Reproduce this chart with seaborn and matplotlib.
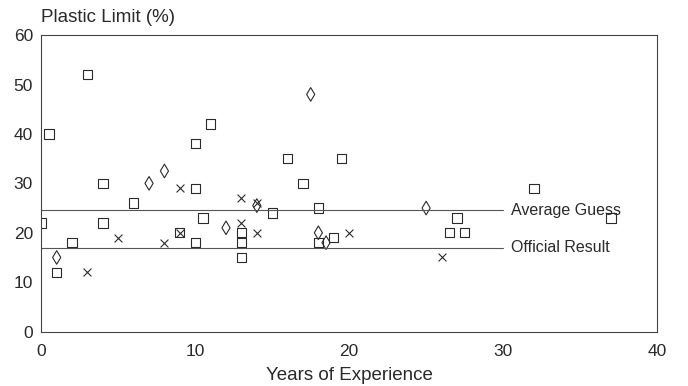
import pandas as pd
import numpy as np
import matplotlib
matplotlib.use("Agg")
import matplotlib.pyplot as plt
import seaborn as sns

# values
square_years = [0, 0.5, 1, 2, 3, 4, 4, 6, 9, 10, 10, 10, 10.5, 11, 13, 13, 13, 15, 16, 17, 18, 18, 19, 19.5, 26.5, 27, 27.5, 32, 37]
square_limit = [22, 40, 12, 18, 52, 30, 22, 26, 20, 29, 38, 18, 23, 42, 20, 18, 15, 24, 35, 30, 25, 18, 19, 35, 20, 23, 20, 29, 23]

diamond_years = [1, 7, 8, 12, 14, 17.5, 18, 18.5, 25]
diamond_limit = [15, 30, 32.5, 21, 25.5, 48, 20, 18, 25]

cross_years = [3, 5, 8, 9, 9, 13, 13, 14, 14, 20, 26]
cross_limit = [12, 19, 18, 29, 20, 27, 22, 26, 20, 20, 15]

ref_names = ["Average Guess", "Official Result"]
ref_values = [24.6, 17.0]
ref_end = 30

x_ticks = [0, 10, 20, 30, 40]
y_ticks = [0, 10, 20, 30, 40, 50, 60]


def main():
    sns.set_style("white")
    plt.rcParams['font.family'] = ['Liberation Sans', 'DejaVu Sans']
    ink = "#2a2a2a"

    fig = plt.figure(figsize=(6.88, 3.86), dpi=100)
    ax = fig.add_axes([0.06, 0.141, 0.895, 0.768])

    squares = pd.DataFrame({"years": square_years, "limit": square_limit})
    diamonds = pd.DataFrame({"years": diamond_years, "limit": diamond_limit})
    crosses = pd.DataFrame({"years": cross_years, "limit": cross_limit})

    sns.scatterplot(data=squares, x="years", y="limit", marker="s", s=45,
                    facecolor="none", edgecolor=ink, linewidth=0.8, ax=ax)
    sns.scatterplot(data=diamonds, x="years", y="limit", marker="d", s=48,
                    facecolor="none", edgecolor=ink, linewidth=0.8, ax=ax)
    sns.scatterplot(data=crosses, x="years", y="limit", marker="x", s=32,
                    color=ink, linewidth=0.8, ax=ax)

    for name, val in zip(ref_names, ref_values):
        ax.plot([0, ref_end], [val, val], color="#555555", lw=0.8, zorder=1)
        ax.text(ref_end + 0.5, val, name, fontsize=11.5, color=ink,
                va="center", ha="left")

    ax.set_xlim(0, 40)
    ax.set_ylim(0, 60)
    ax.set_xticks(x_ticks)
    ax.set_yticks(y_ticks)
    ax.tick_params(direction="in", length=4, width=0.8, colors=ink,
                   labelsize=12.5, pad=6)
    ax.tick_params(axis="x", pad=9)
    for sp in ax.spines.values():
        sp.set_color("#444444")
        sp.set_linewidth(0.8)

    ax.set_xlabel("Years of Experience", fontsize=13.5, color=ink, labelpad=6)
    ax.set_ylabel("")
    ax.text(0, 1.03, "Plastic Limit (%)", transform=ax.transAxes,
            fontsize=13.5, color=ink, ha="left", va="bottom")

    plt.savefig("out.png", dpi=100)


if __name__ == "__main__":
    main()
